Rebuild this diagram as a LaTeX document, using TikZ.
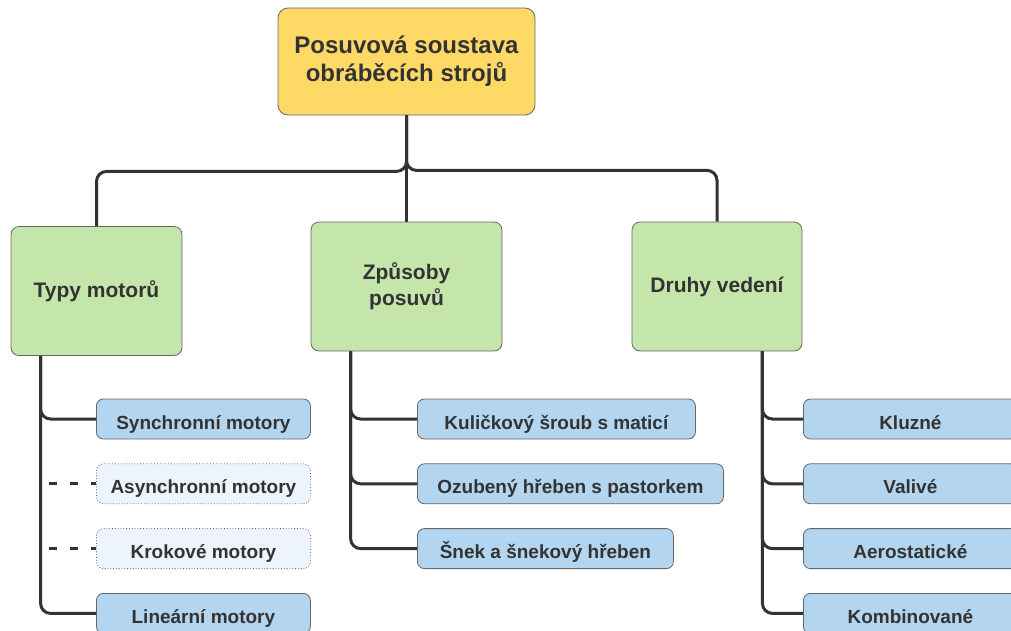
\documentclass[tikz,border=0pt]{standalone}
\usepackage{fontspec}
\setmainfont{Liberation Sans}
\usetikzlibrary{positioning,calc}
\definecolor{rootyellow}{HTML}{FFD966}
\definecolor{groupgreen}{HTML}{C5E6AB}
\definecolor{itemblue}{HTML}{B4D5F0}
\definecolor{optblue}{HTML}{EEF4FC}
\definecolor{edgegray}{HTML}{666666}
\definecolor{linedark}{HTML}{333333}
\tikzset{%
  box/.style      = {shape=rectangle, draw=edgegray, line width=0.8pt,%
                     align=center, text=linedark, inner sep=0pt},%
  rootbox/.style  = {box, fill=rootyellow, rounded corners=10pt,%
                     minimum width=257pt, minimum height=107pt,%
                     font=\fontsize{24}{28}\selectfont\bfseries},%
  groupbox/.style = {box, fill=groupgreen, rounded corners=8pt,%
                     minimum height=129pt,%
                     font=\fontsize{21}{26}\selectfont\bfseries},%
  itembox/.style  = {box, fill=itemblue, rounded corners=7pt,%
                     minimum height=40pt, text height=20pt, text depth=0pt,%
                     font=\fontsize{19}{23}\selectfont\bfseries},%
  optbox/.style   = {itembox, fill=optblue, dotted},%
  link/.style     = {draw=linedark, line width=3pt, rounded corners=10pt},%
  stub/.style     = {draw=linedark, line width=3pt,%
                     dash pattern=on 8pt off 13pt}%
}
\begin{document}
\begin{tikzpicture}[x=1pt, y=-1pt]
	\useasboundingbox (0,0) rectangle (1011,630);
	\clip (0,0) rectangle (1011,630);
	\node [rootbox] (root) at (406.5,61.5) {Posuvová soustava\\obráběcích strojů};
	\node [groupbox, minimum width=171pt] (tm) at (96.5,291) {Typy motorů};
	\node [groupbox, minimum width=191pt] (zp) at (406.5,286.5) {Způsoby\\posuvů};
	\node [groupbox, minimum width=170pt] (dv) at (717,286.5) {Druhy vedení};
	\begin{scope}[every node/.append style={minimum width=214pt}]
		\node [itembox, anchor=west] (sm) at (96,419) {Synchronní motory};
		\node [optbox, below=24pt of sm] (am) {Asynchronní motory};
		\node [optbox, below=24pt of am] (km) {Krokové motory};
		\node [itembox, below=24pt of km] (lm) {Lineární motory};
	\end{scope}
	\node [itembox, minimum width=278pt, anchor=west] (ks) at (417,419) {Kuličkový šroub s maticí};
	\node [itembox, minimum width=306pt, below right=24pt and 0pt of ks.south west] (oh) {Ozubený hřeben s pastorkem};
	\node [itembox, minimum width=256pt, below right=24pt and 0pt of oh.south west] (sh) {Šnek a šnekový hřeben};
	\begin{scope}[every node/.append style={minimum width=214pt}]
		\node [itembox, anchor=west] (kl) at (803,419) {Kluzné};
		\node [itembox, below=24pt of kl] (va) {Valivé};
		\node [itembox, below=24pt of va] (ae) {Aerostatické};
		\node [itembox, below=24pt of ae] (ko) {Kombinované};
	\end{scope}
	\draw [link] (root.south) -- (zp.north);
	\draw [link] (root.south) -- ++(0,56) -| (tm.north);
	\draw [link] (root.south) -- ++(0,55) -| (dv.north);
	\coordinate (tmstem) at ([xshift=30pt]tm.south west);
	\coordinate (zpstem) at ([xshift=40pt]zp.south west);
	\coordinate (dvstem) at ([xshift=-40pt]dv.south east);
	\foreach \n in {sm,lm}
		\draw [link] (tmstem) |- (\n.west);
	\foreach \n in {am,km}
		\draw [stub] ([xshift=-47pt]\n.west) -- (\n.west);
	\foreach \n in {ks,oh,sh}
		\draw [link] (zpstem) |- (\n.west);
	\foreach \n in {kl,va,ae,ko}
		\draw [link] (dvstem) |- (\n.west);
\end{tikzpicture}
\end{document}
